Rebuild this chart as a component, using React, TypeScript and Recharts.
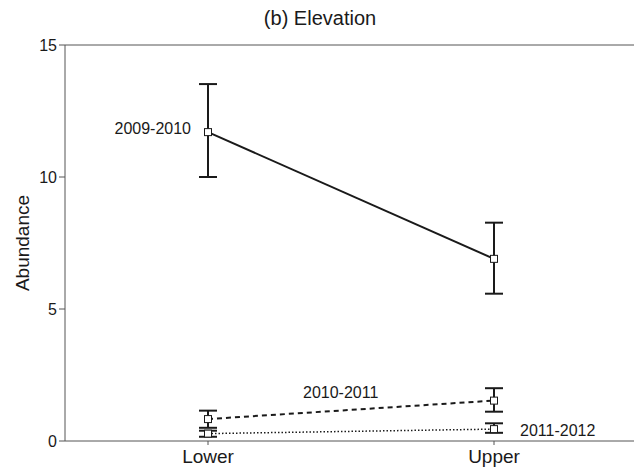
import { ComposedChart, Line, XAxis, YAxis, ErrorBar, LabelList, Label } from "recharts";

const FONT = '"Liberation Sans", Arial, sans-serif';
const INK = "#1a1a1a";
const AXIS = "#555";

const categories = ["Lower", "Upper"];
const positions = [1, 2];
const yTicks = [0, 5, 10, 15];

// means with lower / upper error limits per season
const mean0910 = [11.7, 6.9];
const low0910 = [10.0, 5.58];
const high0910 = [13.52, 8.27];

const mean1011 = [0.83, 1.53];
const low1011 = [0.5, 1.11];
const high1011 = [1.15, 2.0];

const mean1112 = [0.28, 0.45];
const low1112 = [0.16, 0.31];
const high1112 = [0.39, 0.67];

const rows = categories.map((name, i) => ({
	name,
	pos: positions[i],
	m0910: mean0910[i],
	e0910: [mean0910[i] - low0910[i], high0910[i] - mean0910[i]],
	m1011: mean1011[i],
	e1011: [mean1011[i] - low1011[i], high1011[i] - mean1011[i]],
	m1112: mean1112[i],
	e1112: [mean1112[i] - low1112[i], high1112[i] - mean1112[i]]
}));

const SquareDot = (props: any) => {
	const { cx, cy, index, dataKey } = props;
	if (cx == null || cy == null) return null;
	return (
		<rect
			key={`${dataKey}-${index}`}
			x={cx - 3.5}
			y={cy - 3.5}
			width={7}
			height={7}
			fill="#fff"
			stroke={INK}
			strokeWidth={1}
		/>
	);
};

// text placed next to one point of a series
const seriesLabel =
	(text: string, at: number, dx: number, dy: number, anchor: "start" | "end") =>
	(props: any) => {
		if (props.index !== at) return null;
		const x = props.viewBox?.x ?? props.x;
		const y = props.viewBox?.y ?? props.y;
		return (
			<text
				x={x + dx}
				y={y + dy}
				textAnchor={anchor}
				dominantBaseline="central"
				fontSize={16}
				fontFamily={FONT}
				fill={INK}
			>
				{text}
			</text>
		);
	};

const YTitle = (props: any) => {
	const vb = props.viewBox;
	const cx = vb.x + 22;
	const cy = vb.y + vb.height / 2;
	return (
		<text
			x={cx}
			y={cy}
			transform={`rotate(-90 ${cx} ${cy})`}
			textAnchor="middle"
			dominantBaseline="central"
			fontSize={19}
			fontFamily={FONT}
			fill={INK}
		>
			Abundance
		</text>
	);
};

export default function App() {
	return (
		<div
			style={{
				position: "absolute",
				left: 0,
				top: 0,
				width: 634,
				height: 474,
				overflow: "hidden",
				background: "#fff",
				fontFamily: FONT
			}}
		>
			<div
				style={{
					position: "absolute",
					left: 0,
					width: 640,
					top: 6,
					textAlign: "center",
					fontSize: 20,
					color: INK,
					lineHeight: "24px"
				}}
			>
				(b) Elevation
			</div>
			<ComposedChart
				width={637}
				height={474}
				data={rows}
				margin={{ top: 45, right: 0, bottom: 0, left: 0 }}
			>
				<XAxis
					dataKey="pos"
					type="number"
					domain={[0.5, 2.5]}
					ticks={positions}
					tickFormatter={(v: number) => categories[v - 1]}
					height={33}
					tickSize={4}
					tickMargin={5}
					stroke={AXIS}
					tick={{ fill: INK, fontSize: 19, fontFamily: FONT }}
				/>
				<XAxis
					xAxisId="top"
					orientation="top"
					type="number"
					domain={[0.5, 2.5]}
					ticks={positions}
					height={1}
					mirror
					tickSize={4}
					tick={false}
					stroke={AXIS}
				/>
				<YAxis
					type="number"
					domain={[0, 15]}
					ticks={yTicks}
					width={65}
					tickSize={6}
					tickMargin={2}
					stroke={AXIS}
					tick={{ fill: INK, fontSize: 16, fontFamily: FONT }}
				>
					<Label content={YTitle} />
				</YAxis>
				<YAxis
					yAxisId="right"
					orientation="right"
					type="number"
					domain={[0, 15]}
					ticks={[5, 10]}
					width={1}
					mirror
					axisLine={false}
					tickSize={4}
					tick={false}
					stroke={AXIS}
				/>
				<Line
					dataKey="m0910"
					stroke={INK}
					strokeWidth={2}
					dot={<SquareDot />}
					activeDot={false}
					isAnimationActive={false}
				>
					<ErrorBar dataKey="e0910" direction="y" width={9} stroke={INK} strokeWidth={2} />
					<LabelList dataKey="m0910" content={seriesLabel("2009-2010", 0, -17, -4, "end")} />
				</Line>
				<Line
					dataKey="m1011"
					stroke={INK}
					strokeWidth={2}
					strokeDasharray="5 4"
					dot={<SquareDot />}
					activeDot={false}
					isAnimationActive={false}
				>
					<ErrorBar dataKey="e1011" direction="y" width={9} stroke={INK} strokeWidth={2} />
					<LabelList dataKey="m1011" content={seriesLabel("2010-2011", 0, 95, -27, "start")} />
				</Line>
				<Line
					dataKey="m1112"
					stroke={INK}
					strokeWidth={1.5}
					strokeDasharray="1.5 2"
					dot={<SquareDot />}
					activeDot={false}
					isAnimationActive={false}
				>
					<ErrorBar dataKey="e1112" direction="y" width={9} stroke={INK} strokeWidth={2} />
					<LabelList dataKey="m1112" content={seriesLabel("2011-2012", 1, 26, 1, "start")} />
				</Line>
			</ComposedChart>
		</div>
	);
}
